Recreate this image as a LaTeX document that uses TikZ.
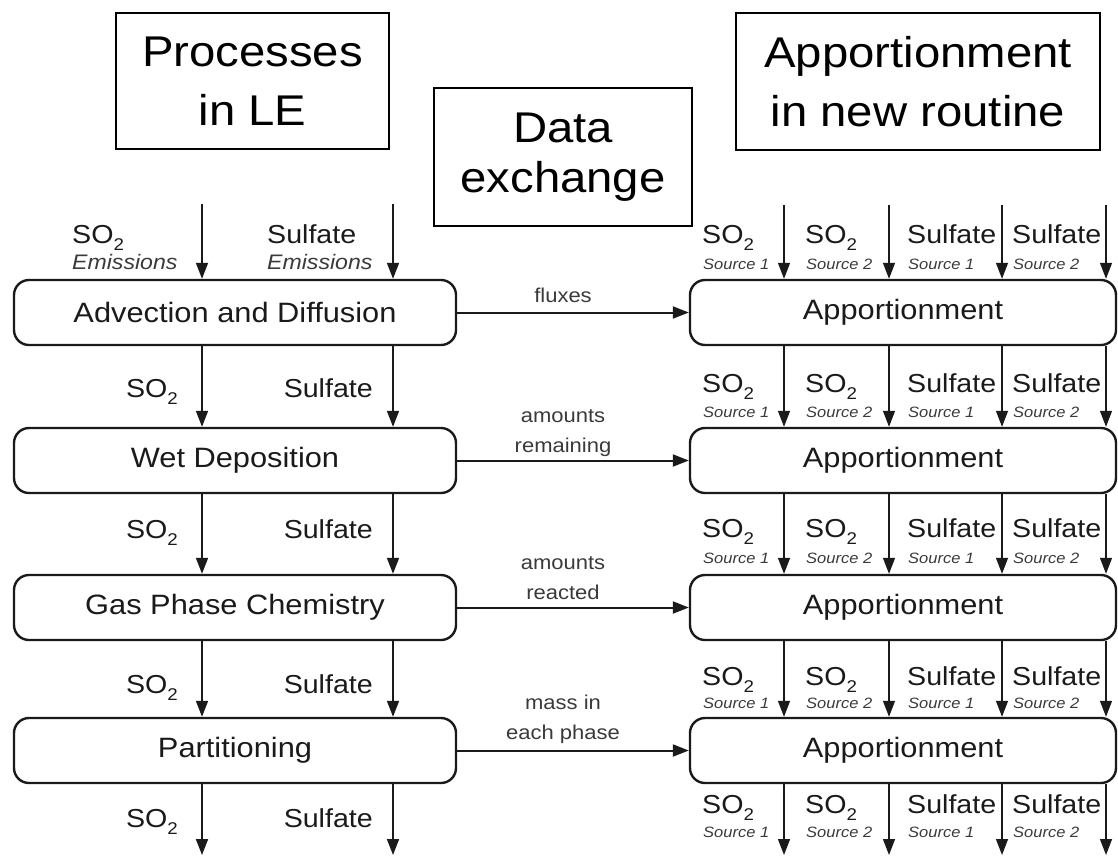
\documentclass[tikz,border=0pt]{standalone}
\usepackage{fontspec}
\setmainfont[FakeStretch=1.1]{Liberation Sans}
\usetikzlibrary{arrows.meta}
\definecolor{ink}{HTML}{1A1A1A}
\definecolor{soft}{HTML}{3A3A3A}
\newcommand{\sotwo}{SO\raisebox{-0.28em}{\fontsize{17}{17}\selectfont 2}}
\begin{document}
\begin{tikzpicture}[x=1pt,y=-1pt,
  hdr/.style={draw=black, line width=1.6pt, inner sep=0pt, align=center, text=black},
  proc/.style={draw=ink, line width=2.4pt, rounded corners=15pt, inner sep=0pt,
    minimum width=442pt, minimum height=65pt, font=\fontsize{28}{32}\selectfont, text=ink},
  app/.style={proc, minimum width=426pt},
  arr/.style={draw=ink, line width=1.7pt, -{Triangle[length=16pt,width=12pt]}},
  sarr/.style={arr, line width=1.3pt},
  xarr/.style={arr, line width=2pt},
  lbl/.style={font=\fontsize{26}{30}\selectfont, text=ink, inner sep=0pt},
  emis/.style={font=\fontsize{21}{24}\selectfont\itshape, text=soft, inner sep=0pt},
  srcl/.style={font=\fontsize{15}{18}\selectfont\itshape, text=soft, inner sep=0pt},
  xl/.style={font=\fontsize{20}{30}\selectfont, text=soft, align=center, inner sep=0pt,
    text depth=0pt, anchor=south},
]
\useasboundingbox (0,0) rectangle (1118,857);

% header boxes
\node[hdr, minimum width=273pt, minimum height=136pt, font=\fontsize{43}{59}\selectfont]
  (h1) at (252.5,81) {Processes\\in LE};
\node[hdr, minimum width=258pt, minimum height=138pt, font=\fontsize{43}{50}\selectfont]
  (h2) at (563,157) {Data\\exchange};
\node[hdr, minimum width=364pt, minimum height=137pt, font=\fontsize{43}{59}\selectfont]
  (h3) at (918,81.5) {Apportionment\\in new routine};

% process boxes
\node[proc] (L1) at (235,312.5) {Advection and Diffusion};
\node[proc] (L2) at (235,460.5) {Wet Deposition};
\node[proc] (L3) at (235,607.5) {Gas Phase Chemistry};
\node[proc] (L4) at (235,750.5) {Partitioning};

\node[app] (R1) at (903,312.5) {Apportionment};
\node[app] (R2) at (903,460.5) {Apportionment};
\node[app] (R3) at (903,607.5) {Apportionment};
\node[app] (R4) at (903,750.5) {Apportionment};

% data exchange arrows
\draw[xarr] (L1.east) -- (R1.west);
\draw[xarr] (L2.east) -- (R2.west);
\draw[xarr] (L3.east) -- (R3.west);
\draw[xarr] (L4.east) -- (R4.west);
\node[xl] (x1) at (563,303) {fluxes};
\node[xl] (x2) at (563,453) {amounts\\remaining};
\node[xl] (x3) at (563,600) {amounts\\reacted};
\node[xl] (x4) at (563,740) {mass in\\each phase};

% left column arrows
\foreach \n/\x in {a/202,b/393} {
  \coordinate (l\n) at (\x,0);
  \coordinate (lt\n) at (\x,204);
  \coordinate (le\n) at (\x,855);
  \draw[arr] (lt\n) -- (l\n |- L1.north);
  \draw[arr] (l\n |- L1.south) -- (l\n |- L2.north);
  \draw[arr] (l\n |- L2.south) -- (l\n |- L3.north);
  \draw[arr] (l\n |- L3.south) -- (l\n |- L4.north);
  \draw[arr] (l\n |- L4.south) -- (le\n);
}

% left column labels
\node[lbl, anchor=base west] (ls0) at (72,243) {\sotwo};
\node[emis, anchor=base west] (le0) at (72,269) {Emissions};
\node[lbl, anchor=base west] (lf0) at (267,243) {Sulfate};
\node[emis, anchor=base west] (lg0) at (267,269) {Emissions};
\foreach \i/\b in {1/397,2/538,3/693,4/827} {
  \node[lbl, anchor=base east] (ls\i) at (178,\b) {\sotwo};
  \node[lbl, anchor=base east] (lf\i) at (373,\b) {Sulfate};
}

% right column arrows
\foreach \n/\x in {1/784,2/889,3/1002,4/1106} {
  \coordinate (r\n) at (\x,0);
  \coordinate (rt\n) at (\x,205);
  \coordinate (re\n) at (\x,855);
  \draw[sarr] (rt\n) -- (r\n |- R1.north);
  \draw[sarr] (r\n |- R1.south) -- (r\n |- R2.north);
  \draw[sarr] (r\n |- R2.south) -- (r\n |- R3.north);
  \draw[sarr] (r\n |- R3.south) -- (r\n |- R4.north);
  \draw[sarr] (r\n |- R4.south) -- (re\n);
}

% right column labels
\foreach \i/\mb/\sb in {0/243/269,1/392/417,2/537/563,3/685/708,4/813/837} {
  \foreach \j/\x/\t/\s in {1/702/{\sotwo}/{Source 1},
                           2/805/{\sotwo}/{Source 2},
                           3/907/{Sulfate}/{Source 1},
                           4/1012/{Sulfate}/{Source 2}} {
    \node[lbl, anchor=base west] (rm\i\j) at (\x,\mb) {\t};
    \node[srcl, anchor=base west] (rs\i\j) at (\x+1,\sb) {\s};
  }
}
\end{tikzpicture}
\end{document}
